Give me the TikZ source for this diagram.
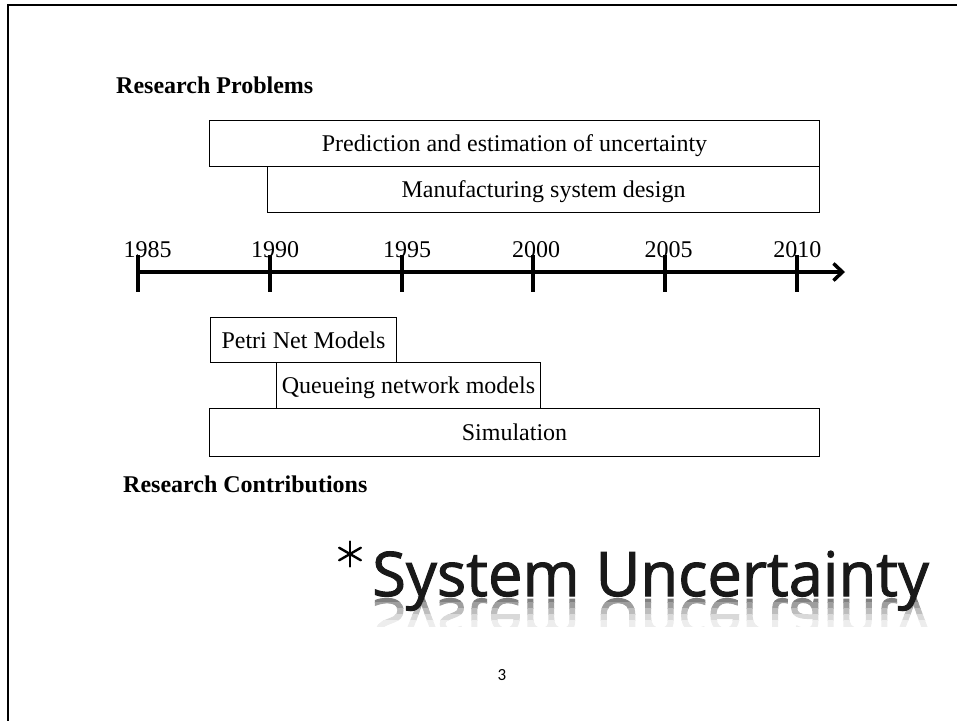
\documentclass[tikz,border=0pt]{standalone}
\usepackage{fontspec}
\setmainfont{Liberation Serif}
\newfontfamily\titlefont[FakeBold=1.6]{Open Sans}
\newfontfamily\pagefont{Carlito}
\usetikzlibrary{arrows.meta}

\begin{document}
\begin{tikzpicture}[x=1pt,y=-1pt,font=\fontsize{24}{28}\selectfont]
\tikzstyle{period}=[draw,line width=1pt,rectangle,anchor=north west,inner sep=0pt,minimum height=46pt,text height=16pt,text depth=0pt]
\tikzstyle{heading}=[anchor=base west,inner sep=0pt,font=\fontsize{24}{28}\selectfont\bfseries]
\tikzstyle{year}=[anchor=base,inner sep=0pt]
\tikzstyle{tick}=[line width=3.5pt]
\tikzstyle{headline}=[anchor=base west,inner sep=0pt,font=\titlefont\fontsize{61.5}{64}\selectfont]
\useasboundingbox (0,0) rectangle (957,721);
\draw[line width=2pt] (957,5) -- (8,5) -- (8,721);

\node[heading] (problems) at (116,93) {Research Problems};
\node[period,minimum width=610pt] (pred) at (209,120) {Prediction and estimation of uncertainty};
\node[period,minimum width=552pt] (manu) at (267,166) {Manufacturing system design};

\coordinate (t0) at (138,272);
\coordinate (tend) at (845,272);
\draw[tick,-{Straight Barb[length=9pt,width=17pt]}] (t0) -- (tend);
\foreach \x/\lx/\yr in {138/147.5/1985,270/275/1990,402/407/1995,533/536/2000,665/668.7/2005,797/797.3/2010}
{
  \draw[tick] (\x,255) -- (\x,292);
  \node[year] (y\yr) at (\lx,257) {\yr};
}

\node[period,minimum width=186pt,minimum height=45pt] (petri) at (210,317) {Petri Net Models};
\node[period,minimum width=264pt] (queue) at (276,362) {Queueing network models};
\node[period,minimum width=610pt,minimum height=48pt] (sim) at (209,408) {Simulation};
\node[heading] (contrib) at (123,492) {Research Contributions};

\foreach \b/\c in {0/50,6/38,12/26,18/15,24/7}
{
  \begin{scope}
    \clip (360,596+\b) rectangle (957,602+\b);
    \node[headline,yscale=-1,text=black!\c] (mirror\b) at (372,599) {System Uncertainty};
  \end{scope}
}
\node[headline,text=black!90] (title) at (372,596) {System Uncertainty};
\foreach \a in {90,30,150}
  \draw[line width=2.4pt,line cap=round] (350,554) ++(\a:-12.5) -- ++(\a:25);

\node[font=\pagefont\fontsize{17}{19}\selectfont,anchor=base,inner sep=0pt] (page) at (502,680) {3};
\end{tikzpicture}
\end{document}
